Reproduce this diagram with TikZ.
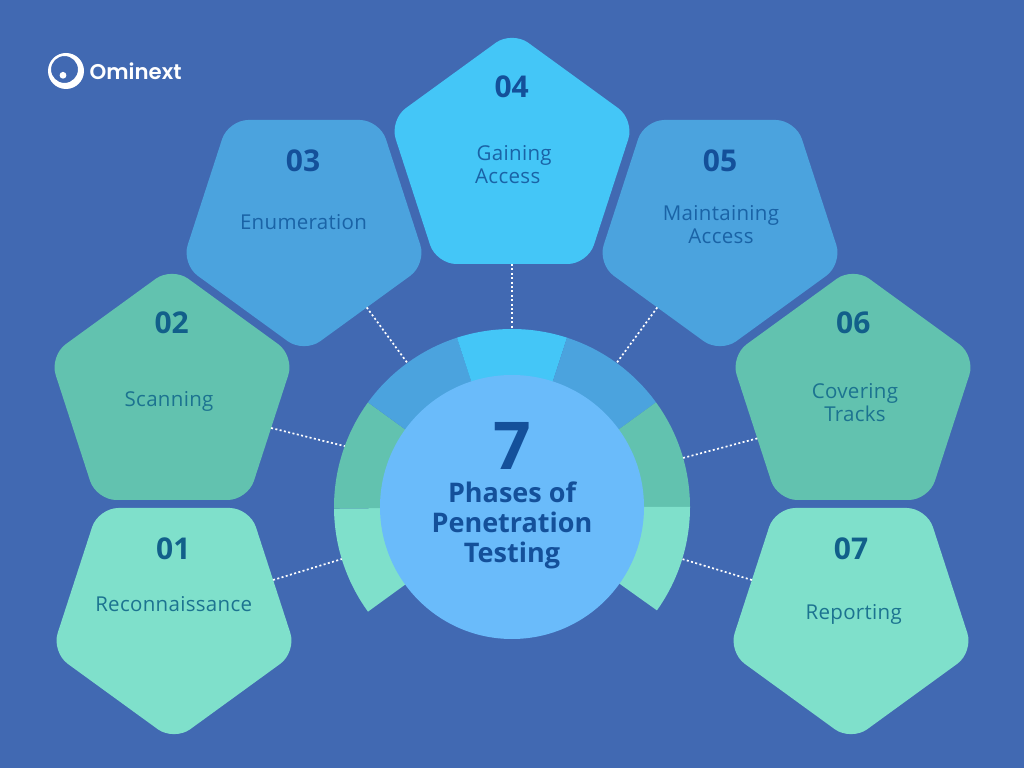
\documentclass[tikz,border=0pt]{standalone}
\usepackage{fontspec}
\usetikzlibrary{shapes.geometric}
\setmainfont{Open Sans}
\newfontfamily\labfont[LetterSpace=1.5]{Open Sans}
\newfontfamily\logofont{Poppins SemiBold}
\definecolor{bgc}{HTML}{4169B2}
\definecolor{c1}{HTML}{7FE0CB}
\definecolor{c2}{HTML}{62C2AF}
\definecolor{c3}{HTML}{4BA3DE}
\definecolor{c4}{HTML}{44C6F7}
\definecolor{hubc}{HTML}{6ABBFA}
\definecolor{tb}{HTML}{1A63A6}
\definecolor{tg}{HTML}{1C7390}
\definecolor{nb}{HTML}{14509A}
\definecolor{ng}{HTML}{125F8A}
\tikzset{
  pent/.style={regular polygon,regular polygon sides=5,minimum size=257.6pt,inner sep=0pt,outer sep=0pt,rounded corners=20pt,fill=#1},
  pentdown/.style={pent=#1,shape border rotate=180},
  num/.style={anchor=base,inner sep=0pt,font=\fontsize{30}{31}\selectfont\bfseries,text=#1},
  lab/.style={anchor=base,inner sep=0pt,align=center,font=\labfont\fontsize{20.5}{22.7}\selectfont,text=#1},
  link/.style={draw=white,line width=1.7pt,dash pattern=on 2pt off 2.4pt},
}
\newcommand{\ringseg}[3]{\fill[#3] ([shift={(512,261)}]#1:178pt) arc[start angle=#1,end angle=#2,radius=178pt] -- ([shift={(512,261)}]#2:130pt) arc[start angle=#2,end angle=#1,radius=130pt] -- cycle;}
\begin{document}
\begin{tikzpicture}[x=1pt,y=1pt]
\useasboundingbox (0,0) rectangle (1024,768);
\fill[bgc] (0,0) rectangle (1024,768);
% pentagons
\node[pentdown=c1] (n1) at (174,155.8) {};
\node[pent=c2] (n2) at (172,372.2) {};
\node[pentdown=c3] (n3) at (304,543.8) {};
\node[pent=c4] (n4) at (512,608.2) {};
\node[pentdown=c3] (n5) at (720,543.8) {};
\node[pent=c2] (n6) at (853,372.2) {};
\node[pentdown=c1] (n7) at (851,155.8) {};
% ring
\ringseg{180.5}{216}{c1}
\ringseg{144}{180.5}{c2}
\ringseg{108}{144}{c3}
\ringseg{72}{108}{c4}
\ringseg{36}{72}{c3}
\ringseg{0}{36}{c2}
\ringseg{-35.5}{0}{c1}
\node[circle,minimum size=356pt,inner sep=0pt,outer sep=0pt] (ring) at (512,261) {};
\node[circle,minimum size=264pt,inner sep=0pt,outer sep=0pt,fill=hubc] (hub) at (512,261) {};
% connectors
\draw[link] (n1.18.5) -- (ring.197.4);
\draw[link] (n2.-18.8) -- (ring.160.8);
\draw[link] (n3.-53.7) -- (ring.126.6);
\draw[link] (n4.-90) -- (ring.90);
\draw[link] (n5.233.4) -- (ring.54.7);
\draw[link] (n6.204.8) -- (ring.16.8);
\draw[link] (n7.162.6) -- (ring.-17);
% numbers
\node[num=ng] (t1) at (173.3,208.2) {01};
\node[num=ng] (t2) at (171.7,434.5) {02};
\node[num=nb] (t3) at (303,596.6) {03};
\node[num=nb] (t4) at (511.7,670.6) {04};
\node[num=nb] (t5) at (720,596.6) {05};
\node[num=ng] (t6) at (853.3,434.6) {06};
\node[num=ng] (t7) at (851,208.2) {07};
% labels
\node[lab=tg] (l1) at (173.7,156.3) {Reconnaissance};
\node[lab=tg] (l2) at (169,361.3) {Scanning};
\node[lab=tb] (l3) at (303.5,538) {Enumeration};
\node[lab=tb,align=left,anchor=base west] (l4) at (475,584.3) {\hspace*{1.5pt}Gaining\\Access};
\node[lab=tb] (l5) at (721,524.7) {Maintaining\\Access};
\node[lab=tg] (l6) at (855,346.3) {Covering\\Tracks};
\node[lab=tg] (l7) at (853.7,148) {Reporting};
% centre
\node[anchor=base,inner sep=0pt,text=nb,font=\fontsize{66}{66}\selectfont\bfseries] (seven) at (512,298) {7};
\node[anchor=base,inner sep=0pt,align=center,text=nb,font=\fontsize{27}{30}\selectfont\bfseries] (title) at (512,205.6) {Phases of\\Penetration\\Testing};
% logo
\fill[white,even odd rule] (66,697) circle[radius=18pt] (64.5,698.5) circle[radius=13.5pt];
\fill[white] (63,692.7) circle[radius=3.4pt];
\node[anchor=base west,inner sep=0pt,text=white,font=\logofont\fontsize{21.3}{22}\selectfont] (logo) at (89.5,688.7) {Ominext};
\end{tikzpicture}
\end{document}
